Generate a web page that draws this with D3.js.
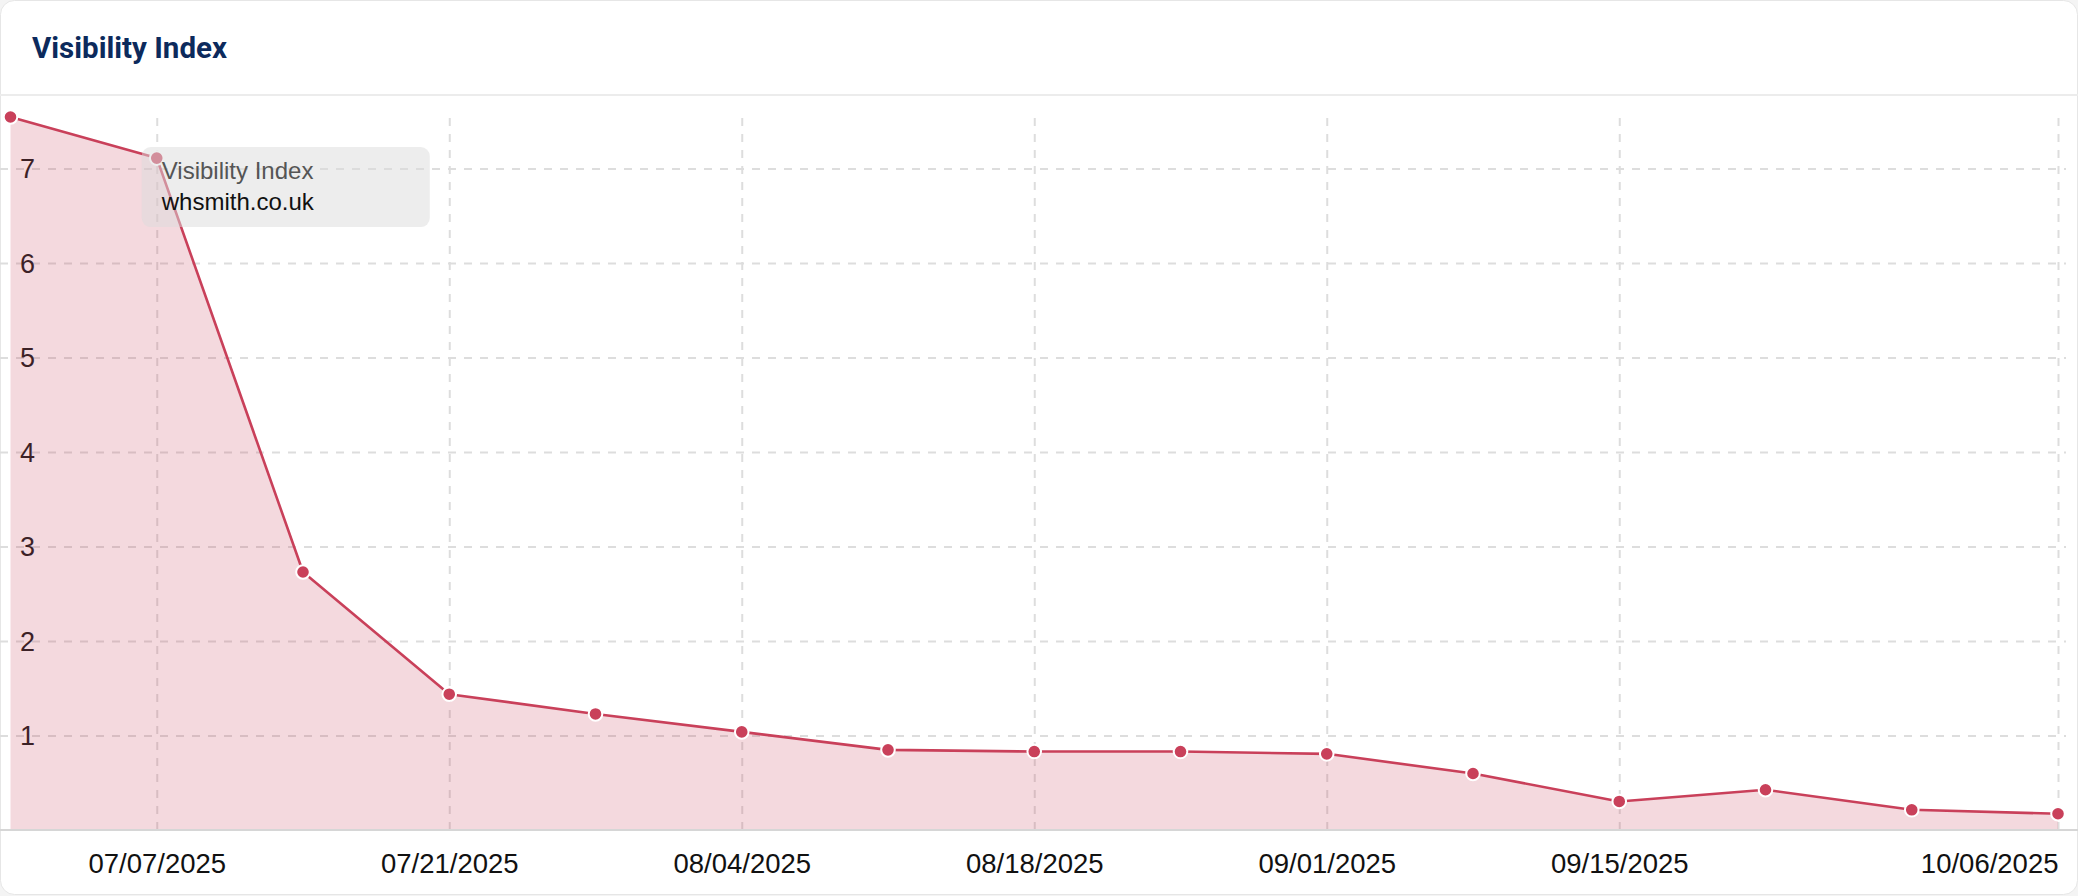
<!DOCTYPE html>
<html>
<head>
<meta charset="utf-8">
<script src="https://cdn.jsdelivr.net/npm/d3@7"></script>
<style>
  html, body { margin: 0; padding: 0; background: #f4f4f4; }
  svg { display: block; }
  .tick text { font-family: "Liberation Sans", Arial, Helvetica, sans-serif; }
</style>
</head>
<body>
<div id="chart"></div>
<script>
// weekly values
const dates = ["2025-06-30", "2025-07-07", "2025-07-14", "2025-07-21", "2025-07-28",
  "2025-08-04", "2025-08-11", "2025-08-18", "2025-08-25", "2025-09-01",
  "2025-09-08", "2025-09-15", "2025-09-22", "2025-09-29", "2025-10-06"]
const values = [7.545, 7.11, 2.73, 1.437, 1.228, 1.038, 0.848, 0.83, 0.83, 0.806,
  0.598, 0.302, 0.426, 0.214, 0.172]
const xTicks = ["2025-07-07", "2025-07-21", "2025-08-04", "2025-08-18", "2025-09-01",
  "2025-09-15", "2025-10-06"]
const yTicks = [1, 2, 3, 4, 5, 6, 7]
const title = "Visibility Index"
const tooltipLines = ["Visibility Index", "whsmith.co.uk"]
const hoverIndex = 1

const width = 2078
const height = 896
const plot = {left: 0, right: 2066, top: 117, bottom: 830}

const parse = d3.utcParse("%Y-%m-%d")
const fmt = d3.utcFormat("%m/%d/%Y")
const data = dates.map((d, i) => ({date: parse(d), value: values[i]}))

const svg = d3.select("#chart")
    .append("svg")
    .attr("width", width)
    .attr("height", height)

// card
svg.append("rect")
    .attr("x", 0.5).attr("y", 0.5)
    .attr("width", width - 1).attr("height", height - 2)
    .attr("rx", 14)
    .attr("fill", "#fff")
    .attr("stroke", "#e6e6e6")

svg.append("text")
    .attr("x", 32)
    .attr("y", 58)
    .attr("font-family", "Roboto, sans-serif")
    .attr("font-weight", 700)
    .attr("font-size", 29.5)
    .attr("fill", "#0c2a5c")
    .text(title)

svg.append("line")
    .attr("x1", 0).attr("x2", width)
    .attr("y1", 95).attr("y2", 95)
    .attr("stroke", "#ececec")
    .attr("stroke-width", 2)

const x = d3.scaleUtc()
    .domain(d3.extent(data, d => d.date))
    .range([10.5, 2058])

const y = d3.scaleLinear()
    .domain([0, d3.max(values)])
    .range([plot.bottom, plot.top])

// horizontal grid + y labels
const yAxis = svg.append("g")
    .attr("transform", `translate(${plot.left},0)`)
    .call(d3.axisRight(y).tickValues(yTicks).tickSize(plot.right - plot.left).tickFormat(d3.format("d")))
yAxis.select(".domain").remove()
yAxis.selectAll(".tick line")
    .attr("stroke", "#dddddd")
    .attr("stroke-width", 2)
    .attr("stroke-dasharray", "8,8")
yAxis.selectAll(".tick text")
    .attr("x", 20)
    .attr("dy", "0.35em")
    .attr("text-anchor", "start")
    .attr("font-size", 27)
    .attr("fill", "#1a1a1a")

// vertical grid + x labels
const xAxis = svg.append("g")
    .attr("transform", `translate(0,${plot.bottom})`)
    .call(d3.axisBottom(x)
        .tickValues(xTicks.map(parse))
        .tickSize(-(plot.bottom - plot.top))
        .tickPadding(0)
        .tickFormat(fmt))
xAxis.select(".domain").remove()
xAxis.selectAll(".tick line")
    .attr("stroke", "#dddddd")
    .attr("stroke-width", 2)
    .attr("stroke-dasharray", "8,8")
xAxis.selectAll(".tick text")
    .attr("y", 43)
    .attr("dy", 0)
    .attr("font-size", 27.5)
    .attr("fill", "#111")
xAxis.selectAll(".tick:last-of-type text")
    .attr("text-anchor", "end")

// area and line
const area = d3.area()
    .x(d => x(d.date))
    .y0(y(0))
    .y1(d => y(d.value))
const line = d3.line()
    .x(d => x(d.date))
    .y(d => y(d.value))

svg.append("path")
    .datum(data)
    .attr("fill", "#c9405a")
    .attr("fill-opacity", 0.2)
    .attr("d", area)

svg.append("line")
    .attr("x1", 0).attr("x2", width)
    .attr("y1", plot.bottom).attr("y2", plot.bottom)
    .attr("stroke", "#d6d6d6")
    .attr("stroke-width", 2)

svg.append("path")
    .datum(data)
    .attr("fill", "none")
    .attr("stroke", "#c9405a")
    .attr("stroke-width", 2.6)
    .attr("stroke-linejoin", "round")
    .attr("d", line)

svg.selectAll(".dot")
    .data(data)
    .enter().append("circle")
    .attr("class", "dot")
    .attr("cx", d => x(d.date))
    .attr("cy", d => y(d.value))
    .attr("r", 6.8)
    .attr("fill", "#c9405a")
    .attr("stroke", "#fff")
    .attr("stroke-width", 2)

// tooltip over the hovered week
const hx = x(data[hoverIndex].date)
const hy = y(data[hoverIndex].value)
const tip = svg.append("g")
    .attr("transform", `translate(${hx - 15},${hy - 11})`)
tip.append("rect")
    .attr("width", 288)
    .attr("height", 80)
    .attr("rx", 9)
    .attr("fill", "#dcdcdc")
    .attr("fill-opacity", 0.5)
tip.selectAll("text")
    .data(tooltipLines)
    .enter().append("text")
    .attr("x", 20)
    .attr("y", (d, i) => 32 + i * 31)
    .attr("font-family", "'Liberation Sans', Arial, sans-serif")
    .attr("font-size", 24)
    .attr("fill", (d, i) => i === 0 ? "#555" : "#111")
    .text(d => d)
</script>
</body>
</html>
